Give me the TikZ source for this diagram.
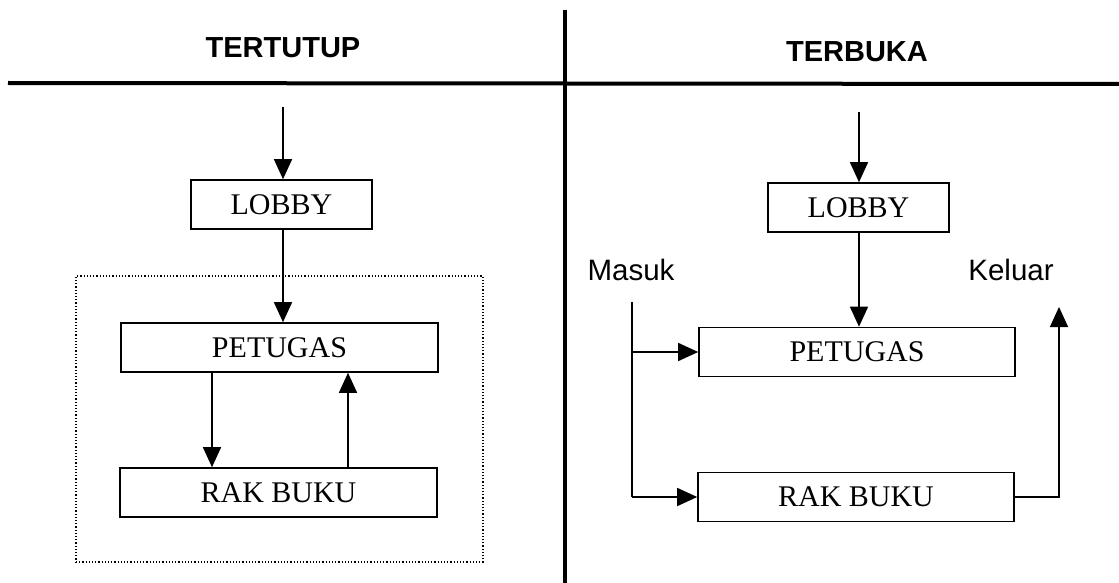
\documentclass[tikz,border=0pt]{standalone}
\usepackage{fontspec}
\setmainfont{Liberation Serif}
\setsansfont{Liberation Sans}
\usetikzlibrary{arrows.meta}
\begin{document}
\begin{tikzpicture}[x=1pt,y=-1pt,
  box/.style={draw, line width=1.6pt, minimum height=49pt, inner sep=0pt, font=\fontsize{30}{30}\selectfont},
  arr/.style={line width=1.5pt, -{Triangle[length=20pt,width=18pt]}},
  ln/.style={line width=1.5pt},
  title/.style={font=\sffamily\bfseries\fontsize{29}{29}\selectfont},
  lab/.style={font=\sffamily\fontsize{29.5}{29.5}\selectfont}]
\useasboundingbox (0,0) rectangle (1119,583);
% dividers
\draw[line width=4pt] (8,83) -- (1119,84);
\draw[line width=4pt] (565,10) -- (565,583);
% titles
\node[title] (t1) at (283,48) {TERTUTUP};
\node[title] (t2) at (857,52) {TERBUKA};
% left side
\node[box, minimum width=181pt] (lobL) at (281.5,204.5) {LOBBY};
\node[box, minimum width=317pt] (petL) at (279.5,347.5) {PETUGAS};
\node[box, minimum width=317pt] (rakL) at (278.5,492.5) {RAK BUKU};
\node[draw, dotted, line width=1.2pt, minimum width=407pt, minimum height=286pt, inner sep=0pt] (zone) at (279.5,419) {};
\coordinate (inL) at (283,107);
\draw[arr] (inL) -- (lobL.north -| inL);
\draw[arr] (lobL.south -| inL) -- (petL.north -| inL);
\draw[arr] (petL.south -| 212,0) -- (rakL.north -| 212,0);
\draw[arr] (rakL.north -| 348,0) -- (petL.south -| 348,0);
% right side
\node[box, minimum width=181pt] (lobR) at (858.5,207.5) {LOBBY};
\node[box, minimum width=316pt] (petR) at (857,352) {PETUGAS};
\node[box, minimum width=316pt] (rakR) at (856,497) {RAK BUKU};
\node[lab] (masuk) at (631,270) {Masuk};
\node[lab] (keluar) at (1011,270) {Keluar};
\coordinate (inR) at (859,112);
\draw[arr] (inR) -- (lobR.north -| inR);
\draw[arr] (lobR.south -| inR) -- (petR.north -| inR);
\coordinate (m0) at (632,302);
\coordinate (mb) at (632,352);
\draw[ln] (m0) -- (632,497);
\draw[arr] (632,497) -- (rakR.west);
\draw[arr] (mb) -- (petR.west);
\coordinate (kout) at (1059,307);
\draw[arr] (rakR.east) -- (1059,497) -- (kout);
\end{tikzpicture}
\end{document}
